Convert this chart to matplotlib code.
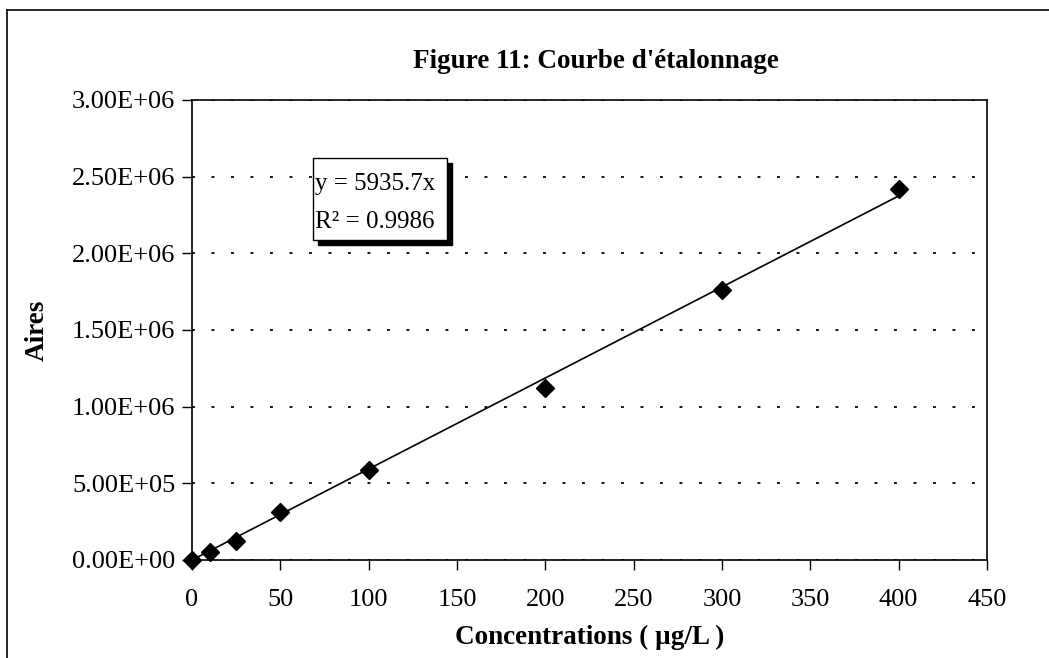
import matplotlib
matplotlib.use("Agg")
import matplotlib.pyplot as plt
from matplotlib.patches import Rectangle
from matplotlib.transforms import IdentityTransform
from matplotlib.ticker import FuncFormatter, MultipleLocator

# Data
concentrations = [0, 10, 25, 50, 100, 200, 300, 400]
aires = [0, 5.0e4, 1.22e5, 3.1e5, 5.85e5, 1.125e6, 1.76e6, 2.42e6]
slope = 5935.7
r2 = 0.9986
title = "Figure 11: Courbe d'étalonnage"
xlabel = "Concentrations ( µg/L )"
ylabel = "Aires"

plt.rcParams['font.family'] = ['Liberation Serif', 'DejaVu Serif']

fig = plt.figure(figsize=(10.49, 6.58), dpi=100)
W, H = 1049, 658

# Outer frame (top and left visible)
fig.add_artist(plt.Line2D([7 / W, 7 / W], [0, 1 - 10 / H], color='black', lw=1.2,
                          transform=fig.transFigure))
fig.add_artist(plt.Line2D([7 / W, 1], [1 - 10 / H, 1 - 10 / H], color='black', lw=1.2,
                          transform=fig.transFigure))

left, right, top, bottom = 192 / W, 987 / W, 1 - 100 / H, 1 - 560 / H
ax = fig.add_axes([left, bottom, right - left, top - bottom])

ax.set_xlim(0, 450)
ax.set_ylim(0, 3.0e6)
ax.xaxis.set_major_locator(MultipleLocator(50))
ax.yaxis.set_major_locator(MultipleLocator(5e5))
ax.yaxis.set_major_formatter(FuncFormatter(lambda v, p: f"{v:.2E}"))

ax.grid(axis='y', color='black', lw=1.3, linestyle=(0, (1.6, 9.2)))
ax.set_axisbelow(True)

# Trendline
xs = [0, max(concentrations)]
ax.plot(xs, [slope * x for x in xs], color='black', lw=1.2, zorder=2)
ax.plot(concentrations, aires, linestyle='none', marker='D', markersize=9.5,
        color='black', zorder=3, clip_on=False)

for s in ax.spines.values():
    s.set_linewidth(1.2)
ax.tick_params(direction='out', length=7, width=1.0, labelsize=19,
               colors='black')
ax.tick_params(axis='x', pad=14)
ax.tick_params(axis='y', pad=5)

ax.set_xlabel(xlabel, fontsize=19.5, fontweight='bold', labelpad=10)
ax.set_ylabel(ylabel, fontsize=19.5, fontweight='bold', labelpad=16)
fig.text(596 / W, 1 - 61 / H, title, fontsize=19.5, fontweight='bold',
         ha='center', va='center')

# Equation box with shadow
bx0, by0, bw, bh = 313, 158, 134, 82
shadow = Rectangle((bx0 + 5, H - by0 - bh - 5), bw, bh,
                   facecolor='black', edgecolor='black', zorder=4)
shadow.set_transform(IdentityTransform())
box = Rectangle((bx0, H - by0 - bh), bw, bh, facecolor='white', edgecolor='black',
                lw=1.0, zorder=5)
box.set_transform(IdentityTransform())
fig.add_artist(shadow)
fig.add_artist(box)
fig.text((bx0 + 2) / W, 1 - (by0 + 26) / H, f"y = {slope}x", fontsize=18,
         ha='left', va='center', zorder=6)
fig.text((bx0 + 2) / W, 1 - (by0 + 64) / H, f"R² = {r2}", fontsize=18,
         ha='left', va='center', zorder=6)

fig.savefig("out.png", dpi=100)
